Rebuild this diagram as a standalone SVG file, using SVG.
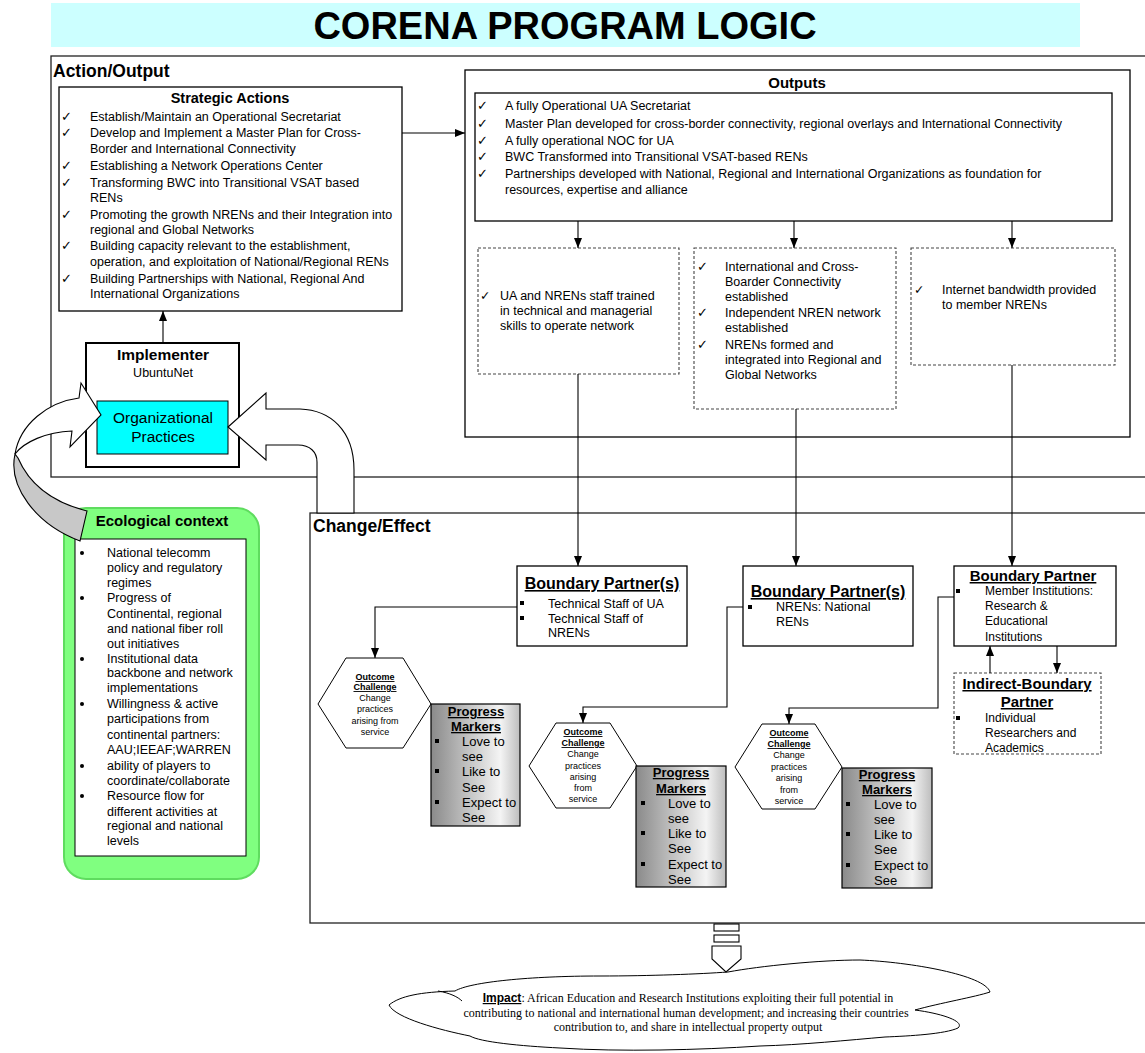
<svg xmlns="http://www.w3.org/2000/svg" width="1145" height="1053" viewBox="0 0 1145 1053">
<defs>
<style>
text{font-family:"Liberation Sans",Arial,sans-serif;fill:#000}
.t125{font-size:12.5px}
.t12{font-size:12px}
.to{font-size:12.5px}
.t13{font-size:13px}
.hx{font-size:9px;text-anchor:middle}
.hxb{font-size:9px;text-anchor:middle;font-weight:bold;text-decoration:underline}
.b{font-weight:bold}
.u{text-decoration:underline}
.mid{text-anchor:middle}
.ck{font-family:"DejaVu Sans",sans-serif;font-size:12.5px}
.box{fill:#fff;stroke:#000;stroke-width:1.3}
.frame{fill:none;stroke:#222;stroke-width:1.3}
.dash{fill:#fff;stroke:#444;stroke-width:1.1;stroke-dasharray:3 2}
.conn{fill:none;stroke:#000;stroke-width:1.1}
.arr{marker-end:url(#arr)}
.pm{fill:url(#pmg);stroke:#000;stroke-width:1.2}
.hex{fill:#fff;stroke:#000;stroke-width:1}
.blk{fill:#fff;stroke:#000;stroke-width:1.1}
.ser{font-family:"Liberation Serif","Times New Roman",serif;font-size:12px;text-anchor:middle}
</style>
<marker id="arr" viewBox="0 0 10 8" refX="10" refY="4" markerWidth="10" markerHeight="8" markerUnits="userSpaceOnUse" orient="auto">
<path d="M0,0 L10,4 L0,8 Z" fill="#000"/>
</marker>
<linearGradient id="pmg" x1="0" y1="0" x2="1" y2="0">
<stop offset="0" stop-color="#8a8a8a"/>
<stop offset="0.78" stop-color="#f4f4f4"/>
<stop offset="1" stop-color="#bdbdbd"/>
</linearGradient>
</defs>

<g id="title">
<rect x="51" y="3" width="1029" height="44" fill="#ccffff"/>
<text x="565" y="39" class="b mid" style="font-size:38px">CORENA PROGRAM LOGIC</text>
</g>

<g id="action-output">
<rect x="51" y="56" width="1100" height="421" class="frame"/>
<text x="53" y="77" class="b" style="font-size:17.5px">Action/Output</text>
</g>

<g id="change-effect">
<rect x="310" y="513" width="840" height="410" class="frame"/>
<text x="313" y="532" class="b" style="font-size:17.5px">Change/Effect</text>
</g>

<g id="strategic-actions">
<rect x="59" y="87" width="343" height="224" class="box"/>
<text x="230" y="103" class="b mid" style="font-size:14.5px">Strategic Actions</text>
<g class="ck">
<text x="61" y="121">✓</text><text x="61" y="137">✓</text><text x="61" y="170">✓</text><text x="61" y="187">✓</text><text x="61" y="219">✓</text><text x="61" y="250">✓</text><text x="61" y="283">✓</text>
</g>
<g class="t125">
<text x="90" y="121">Establish/Maintain an Operational Secretariat</text>
<text x="90" y="137">Develop and Implement a Master Plan for Cross-</text>
<text x="90" y="153">Border and International Connectivity</text>
<text x="90" y="170">Establishing a Network Operations Center</text>
<text x="90" y="187">Transforming BWC into Transitional VSAT based</text>
<text x="90" y="202">RENs</text>
<text x="90" y="219">Promoting the growth NRENs and their Integration into</text>
<text x="90" y="234">regional and Global Networks</text>
<text x="90" y="250">Building capacity relevant to the establishment,</text>
<text x="90" y="266">operation, and exploitation of National/Regional RENs</text>
<text x="90" y="283">Building Partnerships with National, Regional And</text>
<text x="90" y="298">International Organizations</text>
</g>
</g>

<g id="outputs">
<rect x="465" y="70" width="665" height="367" class="box"/>
<text x="797" y="88" class="b mid" style="font-size:15px">Outputs</text>
<rect x="475" y="93" width="637" height="128" class="box"/>
<g class="ck">
<text x="477" y="110">✓</text><text x="477" y="128">✓</text><text x="477" y="145">✓</text><text x="477" y="161">✓</text><text x="477" y="178">✓</text>
</g>
<g class="to">
<text x="505" y="110">A fully Operational UA Secretariat</text>
<text x="505" y="128">Master Plan developed for cross-border connectivity, regional overlays and International Connectivity</text>
<text x="505" y="145">A fully operational NOC for UA</text>
<text x="505" y="161">BWC Transformed into Transitional VSAT-based RENs</text>
<text x="505" y="178">Partnerships developed with National, Regional and International Organizations as foundation for</text>
<text x="505" y="194">resources, expertise and alliance</text>
</g>
</g>

<g id="output-staff">
<rect x="478" y="248" width="201" height="126" class="dash"/>
<text x="480" y="300" class="ck">✓</text>
<g class="t125">
<text x="500" y="300">UA  and NRENs staff trained</text>
<text x="500" y="315">in technical and managerial</text>
<text x="500" y="330">skills to operate network</text>
</g>
</g>

<g id="output-connectivity">
<rect x="694" y="248" width="202" height="161" class="dash"/>
<g class="ck"><text x="697" y="271">✓</text><text x="697" y="317">✓</text><text x="697" y="349">✓</text></g>
<g class="t125">
<text x="725" y="271">International and Cross-</text>
<text x="725" y="286">Boarder Connectivity</text>
<text x="725" y="301">established</text>
<text x="725" y="317">Independent NREN network</text>
<text x="725" y="332">established</text>
<text x="725" y="349">NRENs formed and</text>
<text x="725" y="364">integrated into Regional and</text>
<text x="725" y="379">Global Networks</text>
</g>
</g>

<g id="output-bandwidth">
<rect x="911" y="248" width="204" height="117" class="dash"/>
<text x="914" y="294" class="ck">✓</text>
<g class="t125">
<text x="942" y="294">Internet bandwidth provided</text>
<text x="942" y="309">to member NRENs</text>
</g>
</g>

<g id="implementer">
<rect x="86" y="343" width="153" height="124" fill="#fff" stroke="#000" stroke-width="2"/>
<text x="163" y="360" class="b mid" style="font-size:15.5px">Implementer</text>
<text x="163" y="377" class="t125 mid">UbuntuNet</text>
</g>

<g id="organizational-practices">
<rect x="97" y="401" width="131" height="53" fill="#00ffff" stroke="#000" stroke-width="1"/>
<text x="163" y="423" class="mid" style="font-size:15.5px">Organizational</text>
<text x="163" y="442" class="mid" style="font-size:15.5px">Practices</text>
</g>

<g id="ecological-context">
<rect x="64" y="508" width="195" height="371" rx="22" fill="#80ff80" stroke="#5fdc5f" stroke-width="2"/>
<text x="162" y="526" class="b mid" style="font-size:15px">Ecological context</text>
<rect x="75" y="539" width="171" height="317" fill="#fff" stroke="#000" stroke-width="1"/>
<g fill="#000">
<circle cx="82" cy="553" r="2"/><circle cx="82" cy="598" r="2"/><circle cx="82" cy="659" r="2"/><circle cx="82" cy="704" r="2"/><circle cx="82" cy="766" r="2"/><circle cx="82" cy="796" r="2"/>
</g>
<g class="t125">
<text x="107" y="557">National telecomm</text>
<text x="107" y="572">policy and regulatory</text>
<text x="107" y="587">regimes</text>
<text x="107" y="602">Progress of</text>
<text x="107" y="618">Continental, regional</text>
<text x="107" y="633">and national fiber roll</text>
<text x="107" y="648">out initiatives</text>
<text x="107" y="663">Institutional data</text>
<text x="107" y="677">backbone and network</text>
<text x="107" y="692">implementations</text>
<text x="107" y="708">Willingness &amp; active</text>
<text x="107" y="723">participations from</text>
<text x="107" y="739">continental partners:</text>
<text x="107" y="754">AAU;IEEAF;WARREN</text>
<text x="107" y="770">ability of players to</text>
<text x="107" y="785">coordinate/collaborate</text>
<text x="107" y="800">Resource flow for</text>
<text x="107" y="816">different activities at</text>
<text x="107" y="830">regional and national</text>
<text x="107" y="845">levels</text>
</g>
</g>

<g id="bp-technical">
<rect x="517" y="566" width="170" height="80" class="box"/>
<text x="602" y="589" class="b u mid" style="font-size:16px">Boundary Partner(s)</text>
<rect x="520" y="601" width="4" height="4"/><rect x="520" y="616" width="4" height="4"/>
<g class="t125">
<text x="548" y="608">Technical Staff of UA</text>
<text x="548" y="623">Technical Staff of</text>
<text x="548" y="637">NRENs</text>
</g>
</g>

<g id="bp-nrens">
<rect x="743" y="566" width="170" height="80" class="box"/>
<text x="828" y="597" class="b u mid" style="font-size:16px">Boundary Partner(s)</text>
<rect x="748" y="605" width="4" height="4"/>
<g class="t125">
<text x="776" y="611">NRENs:  National</text>
<text x="776" y="626">RENs</text>
</g>
</g>

<g id="bp-members">
<rect x="954" y="566" width="162" height="80" class="box"/>
<text x="1033" y="581" class="b u mid" style="font-size:15px">Boundary Partner</text>
<rect x="956" y="589" width="4" height="4"/>
<g class="t12">
<text x="985" y="595">Member Institutions:</text>
<text x="985" y="610">Research &amp;</text>
<text x="985" y="625">Educational</text>
<text x="985" y="641">Institutions</text>
</g>
</g>

<g id="indirect-bp">
<rect x="954" y="673" width="147" height="81" class="dash"/>
<text x="1027" y="689" class="b u mid" style="font-size:15px">Indirect-Boundary</text>
<text x="1027" y="707" class="b u mid" style="font-size:15px">Partner</text>
<rect x="956" y="716" width="4" height="4"/>
<g class="t12">
<text x="985" y="722">Individual</text>
<text x="985" y="737">Researchers and</text>
<text x="985" y="752">Academics</text>
</g>
</g>

<g id="outcome-1">
<polygon points="346,658 403,658 431,704 403,748 346,748 318,704" class="hex"/>
<text x="375" y="680" class="hxb">Outcome</text>
<text x="375" y="690" class="hxb">Challenge</text>
<text x="375" y="701" class="hx">Change</text>
<text x="375" y="712" class="hx">practices</text>
<text x="375" y="724" class="hx">arising from</text>
<text x="375" y="735" class="hx">service</text>
</g>

<g id="progress-1">
<rect x="431" y="704" width="89" height="122" class="pm"/>
<text x="476" y="716" class="b u mid t13">Progress</text>
<text x="476" y="731" class="b u mid t13">Markers</text>
<rect x="435" y="739" width="4" height="4"/><rect x="435" y="769" width="4" height="4"/><rect x="435" y="800" width="4" height="4"/>
<g class="t13">
<text x="462" y="746">Love to</text><text x="462" y="761">see</text>
<text x="462" y="776">Like to</text><text x="462" y="792">See</text>
<text x="462" y="807">Expect to</text><text x="462" y="822">See</text>
</g>
</g>

<g id="outcome-2">
<polygon points="556,723 610,723 637,766 610,808 556,808 529,766" class="hex"/>
<text x="583" y="735" class="hxb">Outcome</text>
<text x="583" y="746" class="hxb">Challenge</text>
<text x="583" y="757" class="hx">Change</text>
<text x="583" y="769" class="hx">practices</text>
<text x="583" y="780" class="hx">arising</text>
<text x="583" y="791" class="hx">from</text>
<text x="583" y="802" class="hx">service</text>
</g>

<g id="progress-2">
<rect x="636" y="766" width="90" height="121" class="pm"/>
<text x="681" y="777" class="b u mid t13">Progress</text>
<text x="681" y="793" class="b u mid t13">Markers</text>
<rect x="641" y="801" width="4" height="4"/><rect x="641" y="831" width="4" height="4"/><rect x="641" y="862" width="4" height="4"/>
<g class="t13">
<text x="668" y="808">Love to</text><text x="668" y="823">see</text>
<text x="668" y="838">Like to</text><text x="668" y="853">See</text>
<text x="668" y="869">Expect to</text><text x="668" y="884">See</text>
</g>
</g>

<g id="outcome-3">
<polygon points="762,724 815,724 842,767 815,809 762,809 735,767" class="hex"/>
<text x="789" y="736" class="hxb">Outcome</text>
<text x="789" y="747" class="hxb">Challenge</text>
<text x="789" y="758" class="hx">Change</text>
<text x="789" y="770" class="hx">practices</text>
<text x="789" y="781" class="hx">arising</text>
<text x="789" y="793" class="hx">from</text>
<text x="789" y="804" class="hx">service</text>
</g>

<g id="progress-3">
<rect x="842" y="768" width="90" height="120" class="pm"/>
<text x="887" y="779" class="b u mid t13">Progress</text>
<text x="887" y="794" class="b u mid t13">Markers</text>
<rect x="846" y="802" width="4" height="4"/><rect x="846" y="832" width="4" height="4"/><rect x="846" y="863" width="4" height="4"/>
<g class="t13">
<text x="874" y="809">Love to</text><text x="874" y="824">see</text>
<text x="874" y="839">Like to</text><text x="874" y="854">See</text>
<text x="874" y="870">Expect to</text><text x="874" y="885">See</text>
</g>
</g>

<g id="impact">
<path d="M389,1005 C400,996 420,992 455,991 C470,982 530,976 600,976 C650,976 700,974 728,972 C760,966 820,960 860,960 C910,962 985,975 990,992 C975,997 940,1003 915,1010 C945,1014 965,1022 958,1028 C945,1034 910,1036 885,1037 C850,1040 800,1045 760,1046 C700,1050 620,1052 560,1048 C520,1046 480,1042 470,1036 C440,1030 395,1018 389,1005 Z" fill="#fff" stroke="#000" stroke-width="1"/>
<path d="M438,991 C450,993 458,997 462,1001" fill="none" stroke="#000" stroke-width="1"/>
<text x="688" y="1002" class="ser"><tspan style="font-family:'Liberation Sans',Arial,sans-serif;font-weight:bold;text-decoration:underline">Impact</tspan>: African Education and Research Institutions exploiting their full potential in</text>
<text x="686" y="1017" class="ser">contributing to national and international human development; and increasing their countries</text>
<text x="688" y="1031" class="ser">contribution to, and share in intellectual property output</text>
</g>

<g id="connectors">
<path d="M402,133 H465" class="conn arr"/>
<path d="M163,343 V311" class="conn arr"/>
<path d="M578,221 V248" class="conn arr"/>
<path d="M794,221 V248" class="conn arr"/>
<path d="M1012,221 V248" class="conn arr"/>
<path d="M578,374 V566" class="conn arr"/>
<path d="M796,409 V566" class="conn arr"/>
<path d="M1012,365 V566" class="conn arr"/>
<path d="M517,607 H375 V658" class="conn arr"/>
<path d="M743,607 H727 V707 H583 V723" class="conn arr"/>
<path d="M954,597 H938 V708 H789 V724" class="conn arr"/>
<path d="M1057,646 V673" class="conn arr"/>
<path d="M990,673 V646" class="conn arr"/>
<path d="M72,431 L70,447 L101,415 L81,383 L79,398 C48,402 20,424 15,454 C24,442 46,432 72,431 Z" class="blk"/>
<path d="M15,454 C8,486 35,524 80,541 L87,511 C55,503 30,486 18,458 Z" fill="#c8c8c8" stroke="#000" stroke-width="1.1"/>
<path d="M228,427 L266,393 L266,409 L300,409 C330,410 354,430 354,470 L354,513 L317,513 L317,462 C317,452 310,445 298,445 L266,445 L266,460 Z" class="blk"/>
<rect x="714" y="924" width="25" height="7" class="blk"/>
<rect x="714" y="935" width="25" height="7" class="blk"/>
<path d="M712,946 H741 V959 L726,972 L712,959 Z" class="blk"/>
</g>
</svg>
